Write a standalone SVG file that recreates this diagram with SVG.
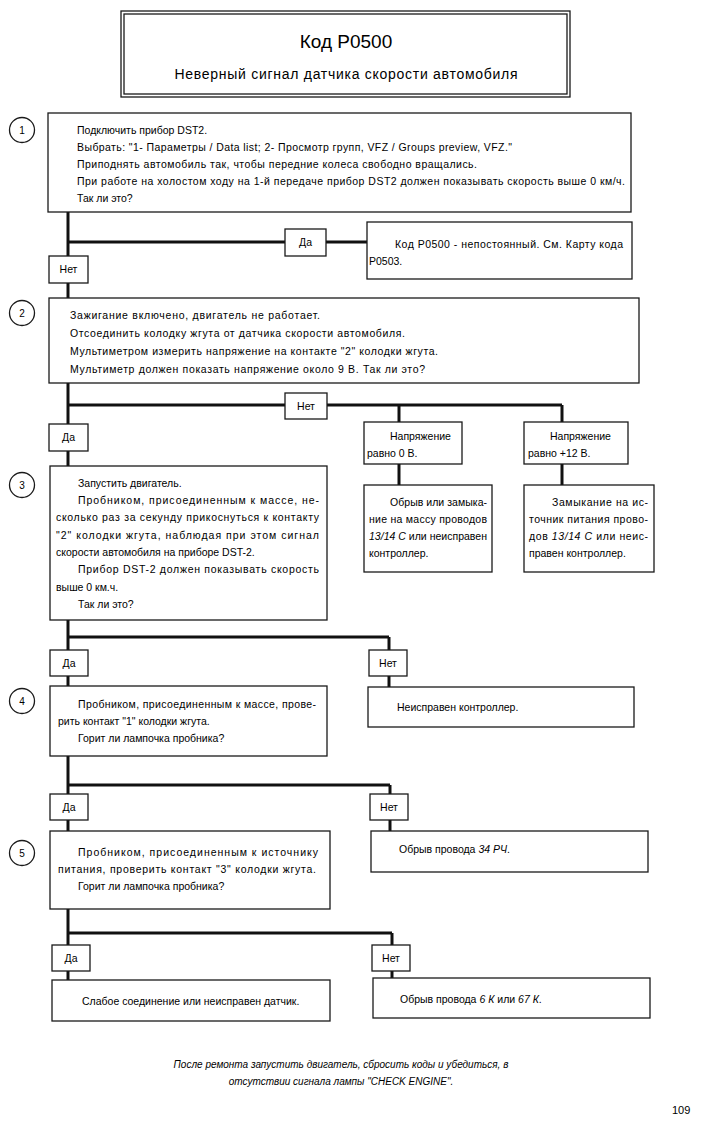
<svg xmlns="http://www.w3.org/2000/svg" width="703" height="1122" viewBox="0 0 703 1122">
<style>
.bg{fill:#fff}
.box{fill:#fff;stroke:#1a1a1a;stroke-width:1.3}
.con{stroke:#111;stroke-width:3;fill:none}
.t{font-family:'Liberation Sans',Arial,sans-serif;font-size:10.5px;fill:#000}
.c{text-anchor:middle}
.i{font-style:italic}
.num{font-family:'Liberation Sans',Arial,sans-serif;font-size:10px;fill:#000;text-anchor:middle}
</style>
<rect class="bg" x="0" y="0" width="703" height="1122"/>

<g id="connectors">
  <line class="con" x1="68" y1="211" x2="68" y2="298"/>
  <line class="con" x1="68" y1="242" x2="367" y2="242"/>
  <line class="con" x1="68" y1="383" x2="68" y2="466"/>
  <line class="con" x1="68" y1="405" x2="562" y2="405"/>
  <line class="con" x1="399" y1="405" x2="399" y2="422"/>
  <line class="con" x1="562" y1="405" x2="562" y2="422"/>
  <line class="con" x1="399" y1="464" x2="399" y2="485"/>
  <line class="con" x1="562" y1="464" x2="562" y2="485"/>
  <line class="con" x1="68" y1="620" x2="68" y2="686"/>
  <line class="con" x1="68" y1="637" x2="389" y2="637"/>
  <line class="con" x1="389" y1="637" x2="389" y2="687"/>
  <line class="con" x1="68" y1="756" x2="68" y2="831"/>
  <line class="con" x1="68" y1="785" x2="390" y2="785"/>
  <line class="con" x1="390" y1="785" x2="390" y2="831"/>
  <line class="con" x1="68" y1="909" x2="68" y2="980"/>
  <line class="con" x1="68" y1="933" x2="392" y2="933"/>
  <line class="con" x1="392" y1="933" x2="392" y2="978"/>
</g>

<g id="title">
  <rect class="box" x="121" y="11" width="449" height="86"/>
  <rect class="box" x="124" y="14" width="443" height="80"/>
  <text class="t c" x="346" y="48" style="font-size:19px">Код P0500</text>
  <text class="t c" x="346" y="79" style="font-size:14px" textLength="343">Неверный сигнал датчика скорости автомобиля</text>
</g>

<g id="step1">
  <circle class="box" cx="22" cy="130" r="12.5"/>
  <text class="num" x="22" y="134">1</text>
  <rect class="box" x="48" y="113" width="583" height="99"/>
  <text class="t" x="77" y="134">Подключить прибор DST2.</text>
  <text class="t" x="77" y="151" textLength="435">Выбрать: "1- Параметры / Data list; 2- Просмотр групп, VFZ / Groups preview, VFZ."</text>
  <text class="t" x="77" y="168" textLength="400">Приподнять автомобиль так, чтобы передние колеса свободно вращались.</text>
  <text class="t" x="77" y="185" textLength="548">При работе на холостом ходу на 1-й передаче прибор DST2 должен показывать скорость выше 0 км/ч.</text>
  <text class="t" x="77" y="202">Так ли это?</text>
</g>

<g id="yes1">
  <rect class="box" x="285" y="229" width="41" height="27"/>
  <text class="t c" x="305.5" y="246">Да</text>
</g>
<g id="result1">
  <rect class="box" x="367" y="222" width="265" height="57"/>
  <text class="t" x="395" y="248" textLength="228">Код P0500 - непостоянный. См. Карту кода</text>
  <text class="t" x="369" y="265">P0503.</text>
</g>
<g id="no1">
  <rect class="box" x="49" y="256" width="39" height="27"/>
  <text class="t c" x="68.5" y="273">Нет</text>
</g>

<g id="step2">
  <circle class="box" cx="22" cy="313" r="12.5"/>
  <text class="num" x="22" y="317">2</text>
  <rect class="box" x="49" y="298" width="590" height="85"/>
  <text class="t" x="70" y="319" textLength="250">Зажигание включено, двигатель не работает.</text>
  <text class="t" x="70" y="337" textLength="335">Отсоединить колодку жгута от датчика скорости автомобиля.</text>
  <text class="t" x="70" y="355" textLength="368">Мультиметром измерить напряжение на контакте "2" колодки жгута.</text>
  <text class="t" x="70" y="373" textLength="355">Мультиметр должен показать напряжение около 9 В. Так ли это?</text>
</g>

<g id="no2">
  <rect class="box" x="285" y="393" width="42" height="26"/>
  <text class="t c" x="306" y="410">Нет</text>
</g>
<g id="yes2">
  <rect class="box" x="49" y="424" width="39" height="27"/>
  <text class="t c" x="68.5" y="441">Да</text>
</g>

<g id="volt0">
  <rect class="box" x="364" y="422" width="98" height="42"/>
  <text class="t" x="390" y="440">Напряжение</text>
  <text class="t" x="367" y="457">равно 0 В.</text>
</g>
<g id="volt12">
  <rect class="box" x="524" y="422" width="104" height="42"/>
  <text class="t" x="550" y="440">Напряжение</text>
  <text class="t" x="528" y="457">равно +12 В.</text>
</g>

<g id="fault0">
  <rect class="box" x="364" y="485" width="128" height="87"/>
  <text class="t" x="390" y="506" textLength="97">Обрыв или замыка-</text>
  <text class="t" x="369" y="523" textLength="118">ние на массу проводов</text>
  <text class="t" x="369" y="540" textLength="118"><tspan class="i">13/14 С</tspan> или неисправен</text>
  <text class="t" x="369" y="557">контроллер.</text>
</g>
<g id="fault12">
  <rect class="box" x="524" y="485" width="130" height="87"/>
  <text class="t" x="552" y="506" textLength="96">Замыкание на ис-</text>
  <text class="t" x="529" y="523" textLength="119">точник питания прово-</text>
  <text class="t" x="529" y="540" textLength="119">дов <tspan class="i">13/14 С</tspan> или неис-</text>
  <text class="t" x="529" y="557">правен контроллер.</text>
</g>

<g id="step3">
  <circle class="box" cx="22" cy="485" r="12.5"/>
  <text class="num" x="22" y="489">3</text>
  <rect class="box" x="50" y="466" width="277" height="154"/>
  <text class="t" x="78" y="487">Запустить двигатель.</text>
  <text class="t" x="78" y="504" textLength="241">Пробником, присоединенным к массе, не-</text>
  <text class="t" x="56" y="521" textLength="263">сколько раз за секунду прикоснуться к контакту</text>
  <text class="t" x="56" y="539" textLength="263">"2" колодки жгута, наблюдая при этом сигнал</text>
  <text class="t" x="56" y="556">скорости автомобиля на приборе DST-2.</text>
  <text class="t" x="78" y="573" textLength="241">Прибор DST-2 должен показывать скорость</text>
  <text class="t" x="56" y="591">выше 0 км.ч.</text>
  <text class="t" x="78" y="608">Так ли это?</text>
</g>

<g id="yes3">
  <rect class="box" x="50" y="650" width="38" height="26"/>
  <text class="t c" x="69" y="667">Да</text>
</g>
<g id="no3">
  <rect class="box" x="369" y="650" width="38" height="26"/>
  <text class="t c" x="388" y="667">Нет</text>
</g>
<g id="fault3">
  <rect class="box" x="368" y="687" width="266" height="40"/>
  <text class="t" x="397" y="711">Неисправен контроллер.</text>
</g>

<g id="step4">
  <circle class="box" cx="22" cy="701" r="12.5"/>
  <text class="num" x="22" y="705">4</text>
  <rect class="box" x="50" y="686" width="277" height="70"/>
  <text class="t" x="78" y="708" textLength="238">Пробником, присоединенным к массе, прове-</text>
  <text class="t" x="58" y="725">рить контакт "1" колодки жгута.</text>
  <text class="t" x="78" y="742">Горит ли лампочка пробника?</text>
</g>

<g id="yes4">
  <rect class="box" x="50" y="794" width="38" height="26"/>
  <text class="t c" x="69" y="811">Да</text>
</g>
<g id="no4">
  <rect class="box" x="370" y="794" width="38" height="26"/>
  <text class="t c" x="389" y="811">Нет</text>
</g>
<g id="fault4">
  <rect class="box" x="371" y="831" width="277" height="41"/>
  <text class="t" x="399" y="853">Обрыв провода <tspan class="i">34 РЧ</tspan>.</text>
</g>

<g id="step5">
  <circle class="box" cx="22" cy="853" r="12.5"/>
  <text class="num" x="22" y="857">5</text>
  <rect class="box" x="50" y="831" width="280" height="78"/>
  <text class="t" x="78" y="856" textLength="240">Пробником, присоединенным к источнику</text>
  <text class="t" x="58" y="873" textLength="258">питания, проверить контакт "3" колодки жгута.</text>
  <text class="t" x="78" y="890">Горит ли лампочка пробника?</text>
</g>

<g id="yes5">
  <rect class="box" x="52" y="945" width="38" height="26"/>
  <text class="t c" x="71" y="962">Да</text>
</g>
<g id="no5">
  <rect class="box" x="372" y="945" width="38" height="26"/>
  <text class="t c" x="391" y="962">Нет</text>
</g>
<g id="end5yes">
  <rect class="box" x="52" y="980" width="278" height="41"/>
  <text class="t" x="82" y="1005">Слабое соединение или неисправен датчик.</text>
</g>
<g id="end5no">
  <rect class="box" x="373" y="978" width="277" height="40"/>
  <text class="t" x="400" y="1003">Обрыв провода <tspan class="i">6 К</tspan> или <tspan class="i">67 К</tspan>.</text>
</g>

<g id="footer">
  <text class="t c i" x="341" y="1068" style="font-size:10px">После ремонта запустить двигатель, сбросить коды и убедиться, в</text>
  <text class="t c i" x="341" y="1085" style="font-size:10px">отсутствии сигнала лампы "CHECK ENGINE".</text>
  <text class="t" x="672" y="1114" style="font-size:11px">109</text>
</g>
</svg>
